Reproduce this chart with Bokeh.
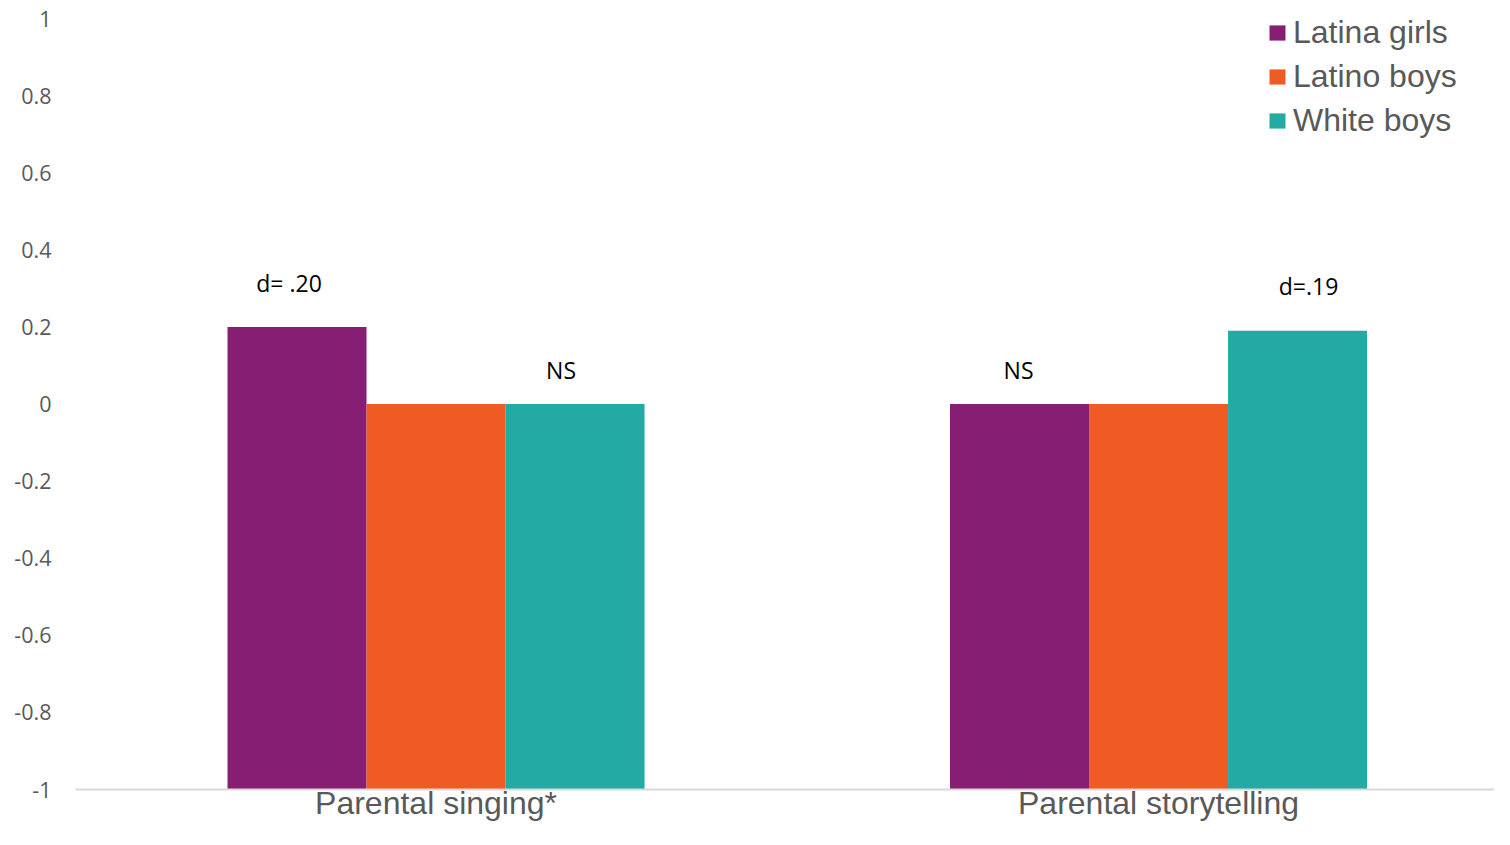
from bokeh.plotting import figure
from bokeh.models import ColumnDataSource, FixedTicker, Legend, LegendItem, Range1d
from bokeh.transform import dodge
from bokeh.core.properties import value
from bokeh.embed import file_html
from bokeh.resources import INLINE

# ---- data ----
categories = ["Parental singing*", "Parental storytelling"]
series = ["Latina girls", "Latino boys", "White boys"]
latina_girls = [0.20, 0.0]
latino_boys = [0.0, 0.0]
white_boys = [0.0, 0.19]
y_ticks = [-1, -0.8, -0.6, -0.4, -0.2, 0, 0.2, 0.4, 0.6, 0.8, 1]
y_tick_labels = ["-1", "-0.8", "-0.6", "-0.4", "-0.2", "0", "0.2", "0.4", "0.6", "0.8", "1"]
ann_text = ["d= .20", "NS", "NS", "d=.19"]
ann_category = [0, 0, 1, 1]
ann_series = [0, 2, 0, 2]

# ---- styles ----
colors = ["#861F73", "#F05A23", "#22ABA5"]
bar_w = 0.1924
offsets = [-bar_w, 0.0, bar_w]
ann_dx = [-8, -14, -1, 11]
ann_dy = [44, 34, 34, 45]

p = figure(width=1494, height=829, output_backend="svg", toolbar_location=None,
           x_range=Range1d(-0.499, 1.465), y_range=Range1d(-1, 1),
           min_border_left=75, min_border_right=0, min_border_top=18, min_border_bottom=40)
p.outline_line_color = None
p.xgrid.visible = False
p.ygrid.visible = False
p.background_fill_color = "white"

xs = list(range(len(categories)))
src = ColumnDataSource(dict(x=xs, s0=latina_girls, s1=latino_boys, s2=white_boys))
vals = [latina_girls, latino_boys, white_boys]
renderers = []
for i, name in enumerate(series):
    r = p.vbar(x=dodge("x", offsets[i], range=p.x_range), top="s%d" % i, bottom=-1,
               width=bar_w, source=src, fill_color=colors[i], line_color=None)
    renderers.append(r)

# annotations
ax = [ann_category[k] + offsets[ann_series[k]] for k in range(len(ann_text))]
ay = [vals[ann_series[k]][ann_category[k]] for k in range(len(ann_text))]
for k in range(len(ann_text)):
    p.text(x=[ax[k]], y=[ay[k]], text=[ann_text[k]], x_offset=ann_dx[k], y_offset=-ann_dy[k],
           text_align="center", text_baseline="middle", text_color="#000000",
           text_font=value("Open Sans"), text_font_size="23px")

# axes
p.yaxis.ticker = FixedTicker(ticks=y_ticks)
p.yaxis.major_label_overrides = {t: l for t, l in zip(y_ticks, y_tick_labels)}
p.yaxis.axis_line_color = None
p.yaxis.major_tick_line_color = None
p.yaxis.major_tick_out = 0
p.yaxis.major_tick_in = 0
p.yaxis.minor_tick_line_color = None
p.yaxis.minor_tick_out = 0
p.yaxis.major_label_standoff = 24
p.yaxis.major_label_text_font = "Open Sans"
p.yaxis.major_label_text_font_size = "21.5px"
p.yaxis.major_label_text_color = "#595959"

p.xaxis.ticker = FixedTicker(ticks=xs)
p.xaxis.major_label_overrides = {i: c for i, c in enumerate(categories)}
p.xaxis.axis_line_color = "#D9D9D9"
p.xaxis.axis_line_width = 2
p.xaxis.major_tick_line_color = None
p.xaxis.major_tick_out = 0
p.xaxis.major_tick_in = 0
p.xaxis.minor_tick_line_color = None
p.xaxis.minor_tick_out = 0
p.xaxis.major_label_standoff = -5
p.xaxis.major_label_text_font = "Liberation Sans"
p.xaxis.major_label_text_font_size = "32px"
p.xaxis.major_label_text_color = "#595959"

legend = Legend(items=[LegendItem(label=series[i], renderers=[renderers[i]]) for i in range(3)],
                location=(1192, 650), orientation="vertical",
                label_text_font="Liberation Sans", label_text_font_size="32px",
                label_text_color="#595959", glyph_width=20, glyph_height=19,
                label_standoff=6, spacing=7, padding=0, margin=0,
                border_line_color=None, background_fill_alpha=0)
p.add_layout(legend)

open("out.html", "w").write(file_html(p, INLINE))
